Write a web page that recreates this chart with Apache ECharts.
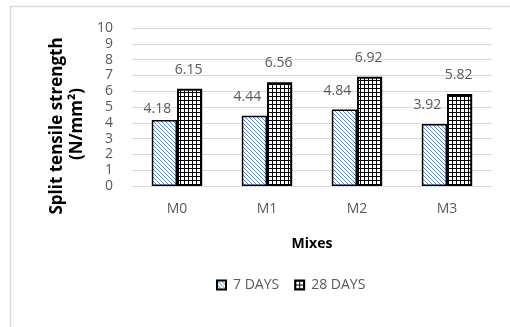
<!DOCTYPE html>
<html>
<head>
<meta charset="utf-8">
<script src="https://cdn.jsdelivr.net/npm/echarts@6/dist/echarts.min.js"></script>
<style>
  html, body { margin: 0; padding: 0; background: #fff; }
  #chart { width: 510px; height: 327px; }
</style>
</head>
<body>
<div id="chart"></div>
<script>
// data
var mixes = ['M0', 'M1', 'M2', 'M3'];
var days7 = [4.18, 4.44, 4.84, 3.92];
var days28 = [6.15, 6.56, 6.92, 5.82];
var seriesNames = ['7 DAYS', '28 DAYS'];

var FONT = '"Open Sans", "Noto Sans", sans-serif';

// hatch patterns like the excel fills
function hatchPattern() {
    var c = document.createElement('canvas');
    c.width = 4; c.height = 4;
    var ctx = c.getContext('2d');
    ctx.fillStyle = '#fff';
    ctx.fillRect(0, 0, 4, 4);
    ctx.strokeStyle = '#5b87c9';
    ctx.lineWidth = 1;
    ctx.beginPath();
    ctx.moveTo(-1, -1); ctx.lineTo(5, 5);
    ctx.moveTo(-1, 3); ctx.lineTo(1, 5);
    ctx.moveTo(3, -1); ctx.lineTo(5, 1);
    ctx.stroke();
    return c;
}
function gridPattern() {
    var c = document.createElement('canvas');
    c.width = 4; c.height = 4;
    var ctx = c.getContext('2d');
    ctx.fillStyle = '#fff';
    ctx.fillRect(0, 0, 4, 4);
    ctx.fillStyle = '#000';
    ctx.fillRect(0, 0, 4, 1);
    ctx.fillRect(0, 0, 1, 4);
    return c;
}
var fill7 = { image: hatchPattern(), repeat: 'repeat' };
var fill28 = { image: gridPattern(), repeat: 'repeat' };

var chart = echarts.init(document.getElementById('chart'));
chart.setOption({
    animation: false,
    textStyle: { fontFamily: FONT },
    graphic: [
        {
            type: 'rect',
            shape: { x: 10.5, y: 6.5, width: 600, height: 400 },
            style: { fill: 'none', stroke: '#d9d9d9', lineWidth: 1.5 }
        },
        {
            type: 'text',
            x: 57, y: 126, rotation: Math.PI / 2,
            style: {
                text: 'Split tensile strength', fontFamily: FONT, fontWeight: 'bold',
                fontSize: 17, fill: '#000', align: 'center', verticalAlign: 'middle'
            }
        },
        {
            type: 'text',
            x: 77, y: 124, rotation: Math.PI / 2,
            style: {
                text: '(N/mm²)', fontFamily: FONT, fontWeight: 'bold',
                fontSize: 17, fill: '#000', align: 'center', verticalAlign: 'middle'
            }
        }
    ],
    legend: {
        data: seriesNames,
        icon: 'rect',
        left: 211,
        top: 273,
        itemWidth: 9,
        itemHeight: 9,
        itemGap: 15,
        textStyle: { fontSize: 14, color: '#595959', padding: [0, 0, 0, 2] }
    },
    grid: { left: 132, right: 18, top: 28, bottom: 141 },
    xAxis: {
        type: 'category',
        data: mixes,
        name: 'Mixes',
        nameLocation: 'middle',
        nameGap: 51,
        nameTextStyle: { fontWeight: 'bold', fontSize: 14, color: '#000' },
        axisLine: { lineStyle: { color: '#d9d9d9' } },
        axisTick: { show: false },
        axisLabel: { fontSize: 14, color: '#595959', margin: 16 }
    },
    yAxis: {
        type: 'value',
        min: 0,
        max: 10,
        interval: 1,
        axisLine: { show: false },
        axisTick: { show: false },
        splitLine: { lineStyle: { color: '#d9d9d9' } },
        axisLabel: { fontSize: 14, color: '#595959', margin: 19, lineHeight: 12 }
    },
    series: [
        {
            name: seriesNames[0],
            type: 'bar',
            barGap: '0%',
            barCategoryGap: '44%',
            data: days7.map(function (v, i) {
                return i === 0 ? { value: v, label: { distance: 4 } } : v;
            }),
            itemStyle: { color: fill7, borderColor: '#000', borderWidth: 1.5 },
            label: {
                show: true, position: 'top', distance: 12, offset: [-7, 0],
                fontSize: 14, color: '#595959'
            }
        },
        {
            name: seriesNames[1],
            type: 'bar',
            data: days28,
            itemStyle: { color: fill28, borderColor: '#000', borderWidth: 2 },
            label: {
                show: true, position: 'top', distance: 12, offset: [-1, 0],
                fontSize: 14, color: '#595959'
            }
        }
    ]
});
</script>
</body>
</html>
